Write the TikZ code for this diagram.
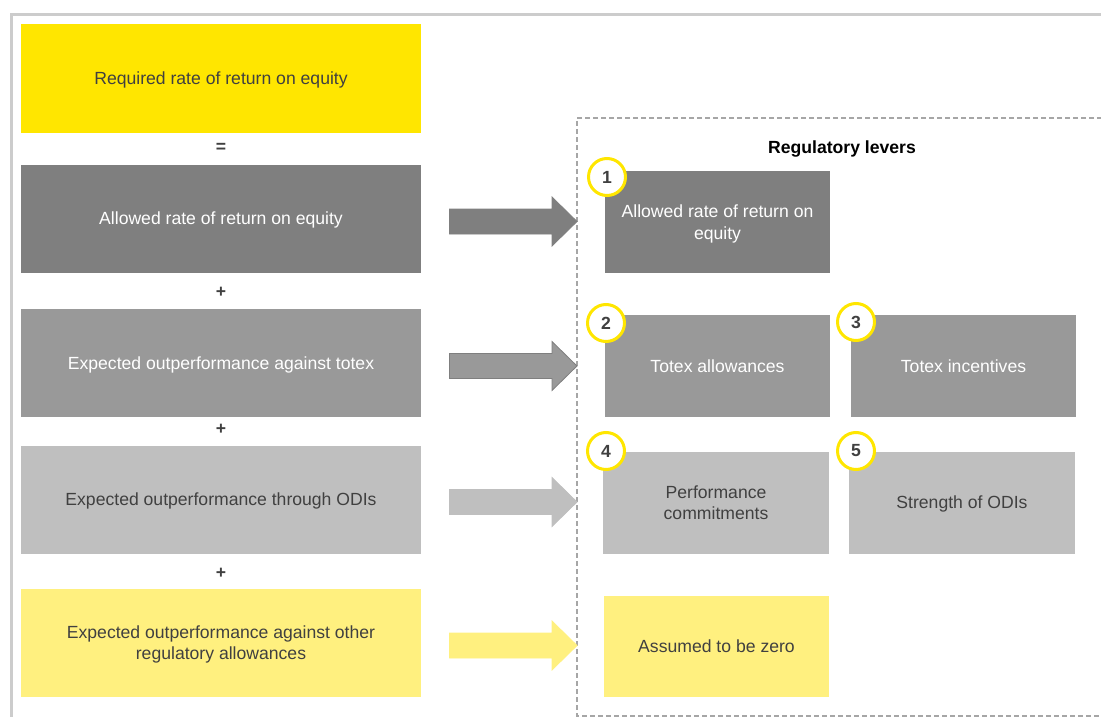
\documentclass[tikz,border=0pt]{standalone}
\usepackage{fontspec}
\setmainfont{Liberation Sans}
\definecolor{eyyellow}{HTML}{FFE600}
\definecolor{paleyellow}{HTML}{FFF07F}
\definecolor{darkgrey}{HTML}{7F7F7F}
\definecolor{midgrey}{HTML}{999999}
\definecolor{lightgrey}{HTML}{BFBFBF}
\definecolor{textgrey}{HTML}{404040}
\definecolor{framegrey}{HTML}{CCCCCC}
\definecolor{dashgrey}{HTML}{A6A6A6}
\begin{document}
\begin{tikzpicture}[x=1pt,y=-1pt,
  txt/.style={font=\fontsize{17.6}{21.5}\selectfont},
  leftbox/.style={txt, minimum width=400pt, minimum height=108pt, inner sep=0pt, align=center, text depth=0pt},
  rightbox/.style={txt, minimum width=225pt, minimum height=102pt, inner sep=0pt, align=center, text depth=0pt},
  sym/.style={font=\fontsize{17.6}{21.5}\selectfont\bfseries, text=textgrey, inner sep=0pt},
  numcircle/.style={circle, draw=eyyellow, line width=3pt, fill=white, minimum size=37pt, inner sep=0pt,
    font=\fontsize{17.6}{21.5}\selectfont\bfseries, text=textgrey},
  blockarrow/.style={line width=0.8pt}
]
\useasboundingbox (0,0) rectangle (1101,717);
% outer frame
\draw[framegrey, line width=3pt] (11.5,740) -- (11.5,15) -- (1110,15);
% dashed panel
\draw[dashgrey, line width=1.3pt, dash pattern=on 5pt off 3pt] (1110,118) -- (577,118) -- (577,716) -- (1110,716);

% left column
\node[leftbox, fill=eyyellow, text=textgrey] (req) at (221,78.5) {Required rate of return on equity};
\node[sym] (eq) at (221,147.5) {=};
\node[leftbox, fill=darkgrey, text=white] (allowed) at (221,218.5) {Allowed rate of return on equity};
\node[sym] (p1) at (221,292.5) {+};
\node[leftbox, fill=midgrey, text=white] (totex) at (221,363) {Expected outperformance against totex};
\node[sym] (p2) at (221,429.5) {+};
\node[leftbox, fill=lightgrey, text=textgrey] (odi) at (221,499.5) {Expected outperformance through ODIs};
\node[sym] (p3) at (221,573.5) {+};
\node[leftbox, fill=paleyellow, text=textgrey] (other) at (221,642.5) {Expected outperformance against other\\regulatory allowances};

% heading
\node[txt, font=\fontsize{17.6}{21.5}\selectfont\bfseries, text=black, inner sep=0pt] (levers) at (842,148.5) {Regulatory levers};

% right boxes
\node[rightbox, fill=darkgrey, text=white] (r1) at (717.5,222) {Allowed rate of return on\\equity};
\node[rightbox, fill=midgrey, text=white] (r2) at (717.5,366) {Totex allowances};
\node[rightbox, fill=midgrey, text=white] (r3) at (963.5,366) {Totex incentives};
\node[rightbox, minimum width=226pt, fill=lightgrey, text=textgrey] (r4) at (716,502.5) {Performance\\commitments};
\node[rightbox, minimum width=226pt, fill=lightgrey, text=textgrey] (r5) at (962,502.5) {Strength of ODIs};
\node[rightbox, minimum height=101pt, fill=paleyellow, text=textgrey] (r6) at (716.5,646.5) {Assumed to be zero};

% numbered circles
\node[numcircle] (c1) at (607,177) {1};
\node[numcircle] (c2) at (606,323) {2};
\node[numcircle] (c3) at (856,322) {3};
\node[numcircle] (c4) at (606,451) {4};
\node[numcircle] (c5) at (856,451) {5};

% block arrows
\foreach \yc/\fc/\dc in {221.5/darkgrey/darkgrey, 366/midgrey/darkgrey, 502/lightgrey/lightgrey, 645.5/paleyellow/paleyellow}{
  \filldraw[blockarrow, fill=\fc, draw=\dc]
    (449.5,\yc-12.5) -- (552,\yc-12.5) -- (552,\yc-24.5) -- (577,\yc) -- (552,\yc+24.5) -- (552,\yc+12.5) -- (449.5,\yc+12.5) -- cycle;
}
\end{tikzpicture}
\end{document}
